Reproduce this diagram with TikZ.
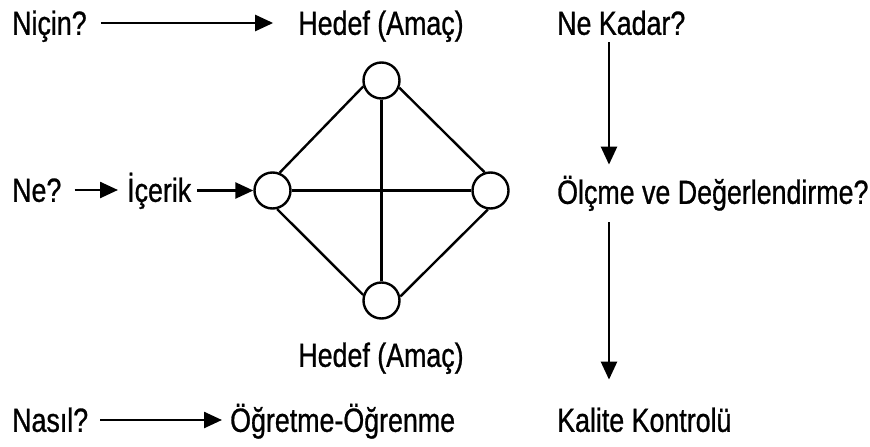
\documentclass[tikz,border=0pt]{standalone}
\usepackage{fontspec}
\setmainfont[FakeStretch=0.8,FakeBold=0.8]{Liberation Sans}
\usetikzlibrary{arrows.meta}
\begin{document}
\begin{tikzpicture}[x=1pt,y=-1pt,
  lbl/.style={inner sep=0pt, font=\fontsize{33.5}{35}\selectfont, text height=24pt, text depth=7pt},
  arr/.style={line width=2.5pt, -{Triangle[length=18pt,width=16pt]}},
  vert/.style={draw, circle, line width=2.4pt, minimum size=36pt, inner sep=0pt, fill=white},
  edge/.style={line width=2.4pt}]
\useasboundingbox (0,0) rectangle (870,447);
% texts
\node[lbl, anchor=base west] (nicin) at (12,34.8) {Niçin?};
\node[lbl, anchor=base] (hedefA) at (381,34.8) {Hedef (Amaç)};
\node[lbl, anchor=base west] (nekadar) at (557,34.8) {Ne Kadar?};
\node[lbl, anchor=base west] (ne) at (12,201.8) {Ne?};
\node[lbl, anchor=base west] (icerik) at (127,201.8) {İçerik};
\node[lbl, anchor=base west] (olcme) at (557,203.8) {Ölçme ve Değerlendirme?};
\node[lbl, anchor=base] (hedefB) at (381,366.8) {Hedef (Amaç)};
\node[lbl, anchor=base west] (nasil) at (12,431.8) {Nasıl?};
\node[lbl, anchor=base west] (ogretme) at (230,431.8) {Öğretme-Öğrenme};
\node[lbl, anchor=base west] (kalite) at (557,431.8) {Kalite Kontrolü};
% diamond
\node[vert] (ct) at (381.5,80.5) {};
\node[vert] (cl) at (272.5,190.5) {};
\node[vert] (cr) at (490.5,190.5) {};
\node[vert] (cb) at (381.5,300.5) {};
\draw[edge] (ct.198) -- (cl.68);
\draw[edge] (ct.338) -- (cr.108);
\draw[edge] (cl.284) -- (cb.163);
\draw[edge] (cr.262) -- (cb.12);
\draw[edge] (ct.south) -- (cb.north);
\draw[edge] (cl.east) -- (cr.west);
% arrows
\coordinate (colx) at (609,0);
\draw[arr] ([xshift=14pt,yshift=11.8pt]nicin.base east) -- ([xshift=-25pt,yshift=11.8pt]hedefA.base west);
\draw[arr] ([xshift=13pt,yshift=11.8pt]ne.base east) -- ([xshift=-9pt,yshift=11.8pt]icerik.base west);
\draw[arr] ([xshift=6pt]icerik.base east |- cl.west) -- (cl.west);
\draw[arr] ([xshift=12pt,yshift=11.8pt]nasil.base east) -- ([xshift=-8pt,yshift=11.8pt]ogretme.base west);
\draw[arr] (nekadar.south -| colx) -- ([yshift=15pt]olcme.north -| colx);
\draw[arr] ([yshift=-11pt]olcme.south -| colx) -- ([yshift=28pt]kalite.north -| colx);
\end{tikzpicture}
\end{document}
